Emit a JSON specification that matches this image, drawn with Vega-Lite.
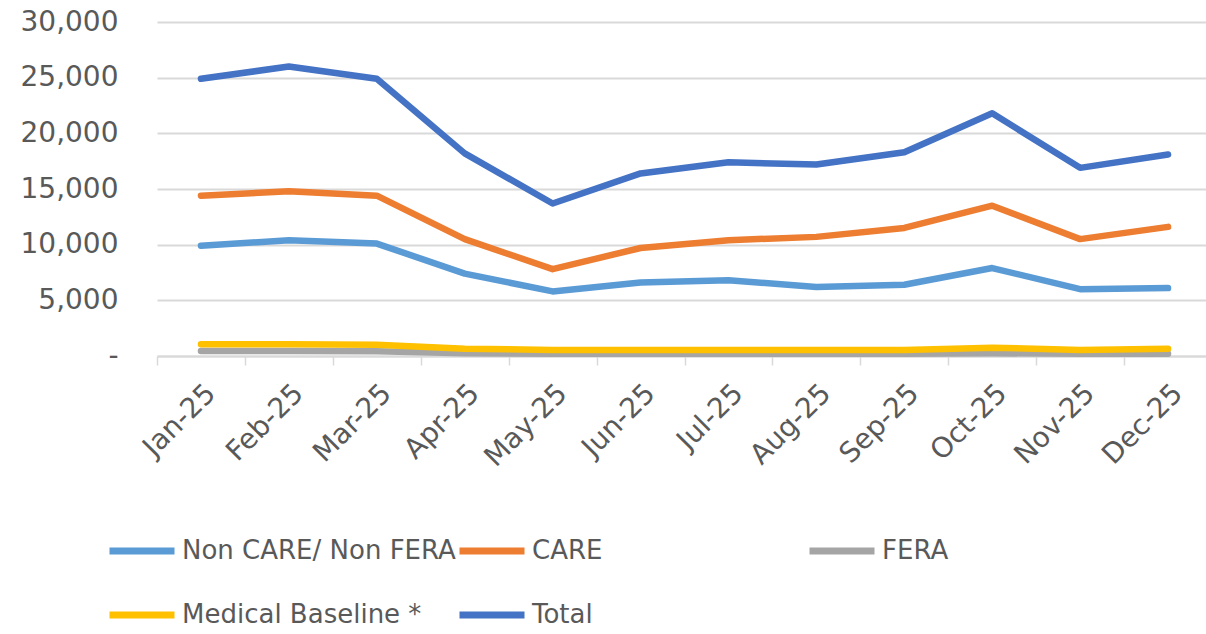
{
  "$schema": "https://vega.github.io/schema/vega-lite/v6.json",
  "width": 1055,
  "height": 334,
  "autosize": {"type": "none"},
  "padding": {"left": 157, "top": 22, "right": 0, "bottom": 278},
  "background": "white",
  "config": {
    "view": {"stroke": null},
    "font": "DejaVu Sans, sans-serif",
    "axis": {"labelFont": "DejaVu Sans, sans-serif", "labelColor": "#595959", "labelFontSize": 28, "title": null},
    "legend": {"labelFont": "DejaVu Sans, sans-serif", "labelColor": "#595959", "labelFontSize": 26, "labelLimit": 0}
  },
  "data": {
    "values": [
      {"month": "Jan-25", "series": "Non CARE/ Non FERA", "value": 9900},
      {"month": "Feb-25", "series": "Non CARE/ Non FERA", "value": 10400},
      {"month": "Mar-25", "series": "Non CARE/ Non FERA", "value": 10100},
      {"month": "Apr-25", "series": "Non CARE/ Non FERA", "value": 7400},
      {"month": "May-25", "series": "Non CARE/ Non FERA", "value": 5800},
      {"month": "Jun-25", "series": "Non CARE/ Non FERA", "value": 6600},
      {"month": "Jul-25", "series": "Non CARE/ Non FERA", "value": 6800},
      {"month": "Aug-25", "series": "Non CARE/ Non FERA", "value": 6200},
      {"month": "Sep-25", "series": "Non CARE/ Non FERA", "value": 6400},
      {"month": "Oct-25", "series": "Non CARE/ Non FERA", "value": 7900},
      {"month": "Nov-25", "series": "Non CARE/ Non FERA", "value": 6000},
      {"month": "Dec-25", "series": "Non CARE/ Non FERA", "value": 6100},
      {"month": "Jan-25", "series": "CARE", "value": 14400},
      {"month": "Feb-25", "series": "CARE", "value": 14800},
      {"month": "Mar-25", "series": "CARE", "value": 14400},
      {"month": "Apr-25", "series": "CARE", "value": 10500},
      {"month": "May-25", "series": "CARE", "value": 7800},
      {"month": "Jun-25", "series": "CARE", "value": 9700},
      {"month": "Jul-25", "series": "CARE", "value": 10400},
      {"month": "Aug-25", "series": "CARE", "value": 10700},
      {"month": "Sep-25", "series": "CARE", "value": 11500},
      {"month": "Oct-25", "series": "CARE", "value": 13500},
      {"month": "Nov-25", "series": "CARE", "value": 10500},
      {"month": "Dec-25", "series": "CARE", "value": 11600},
      {"month": "Jan-25", "series": "FERA", "value": 450},
      {"month": "Feb-25", "series": "FERA", "value": 450},
      {"month": "Mar-25", "series": "FERA", "value": 420},
      {"month": "Apr-25", "series": "FERA", "value": 250},
      {"month": "May-25", "series": "FERA", "value": 200},
      {"month": "Jun-25", "series": "FERA", "value": 200},
      {"month": "Jul-25", "series": "FERA", "value": 200},
      {"month": "Aug-25", "series": "FERA", "value": 200},
      {"month": "Sep-25", "series": "FERA", "value": 200},
      {"month": "Oct-25", "series": "FERA", "value": 250},
      {"month": "Nov-25", "series": "FERA", "value": 200},
      {"month": "Dec-25", "series": "FERA", "value": 200},
      {"month": "Jan-25", "series": "Medical Baseline *", "value": 1050},
      {"month": "Feb-25", "series": "Medical Baseline *", "value": 1050},
      {"month": "Mar-25", "series": "Medical Baseline *", "value": 1000},
      {"month": "Apr-25", "series": "Medical Baseline *", "value": 650},
      {"month": "May-25", "series": "Medical Baseline *", "value": 550},
      {"month": "Jun-25", "series": "Medical Baseline *", "value": 550},
      {"month": "Jul-25", "series": "Medical Baseline *", "value": 550},
      {"month": "Aug-25", "series": "Medical Baseline *", "value": 550},
      {"month": "Sep-25", "series": "Medical Baseline *", "value": 550},
      {"month": "Oct-25", "series": "Medical Baseline *", "value": 750},
      {"month": "Nov-25", "series": "Medical Baseline *", "value": 550},
      {"month": "Dec-25", "series": "Medical Baseline *", "value": 650},
      {"month": "Jan-25", "series": "Total", "value": 24900},
      {"month": "Feb-25", "series": "Total", "value": 26000},
      {"month": "Mar-25", "series": "Total", "value": 24900},
      {"month": "Apr-25", "series": "Total", "value": 18200},
      {"month": "May-25", "series": "Total", "value": 13700},
      {"month": "Jun-25", "series": "Total", "value": 16400},
      {"month": "Jul-25", "series": "Total", "value": 17400},
      {"month": "Aug-25", "series": "Total", "value": 17200},
      {"month": "Sep-25", "series": "Total", "value": 18300},
      {"month": "Oct-25", "series": "Total", "value": 21800},
      {"month": "Nov-25", "series": "Total", "value": 16900},
      {"month": "Dec-25", "series": "Total", "value": 18100}
    ]
  },
  "mark": {"type": "line", "strokeWidth": 6.5, "strokeCap": "round", "strokeJoin": "round"},
  "encoding": {
    "x": {
      "field": "month",
      "type": "nominal",
      "sort": ["Jan-25","Feb-25","Mar-25","Apr-25","May-25","Jun-25","Jul-25","Aug-25","Sep-25","Oct-25","Nov-25","Dec-25"],
      "scale": {"paddingInner": 0, "paddingOuter": 0},
      "axis": {
        "labelAngle": -45,
        "tickBand": "extent",
        "domainColor": "#D9D9D9",
        "domainWidth": 2,
        "tickColor": "#D9D9D9",
        "tickWidth": 1.5,
        "tickSize": 9,
        "labelPadding": 14,
        "labelOffset": 0,
        "grid": false
      }
    },
    "y": {
      "field": "value",
      "type": "quantitative",
      "scale": {"domain": [0, 30000], "nice": false},
      "axis": {
        "values": [0, 5000, 10000, 15000, 20000, 25000, 30000],
        "labelExpr": "datum.value == 0 ? '-\u00a0\u00a0\u00a0' : format(datum.value, ',')",
        "domain": false,
        "ticks": false,
        "labelPadding": 39,
        "gridColor": "#D9D9D9",
        "gridWidth": 2
      }
    },
    "color": {
      "field": "series",
      "type": "nominal",
      "sort": ["Non CARE/ Non FERA", "CARE", "FERA", "Medical Baseline *", "Total"],
      "scale": {
        "domain": ["Non CARE/ Non FERA", "CARE", "FERA", "Medical Baseline *", "Total"],
        "range": ["#5B9BD5", "#ED7D31", "#A5A5A5", "#FFC000", "#4472C4"]
      },
      "legend": {
        "title": null,
        "orient": "none",
        "legendX": -51,
        "legendY": 493,
        "direction": "horizontal",
        "columns": 3,
        "gridAlign": "all",
        "symbolType": "stroke",
        "symbolSize": 4225,
        "symbolStrokeWidth": 7,
        "labelOffset": 4,
        "columnPadding": -12,
        "rowPadding": 14
      }
    }
  }
}
